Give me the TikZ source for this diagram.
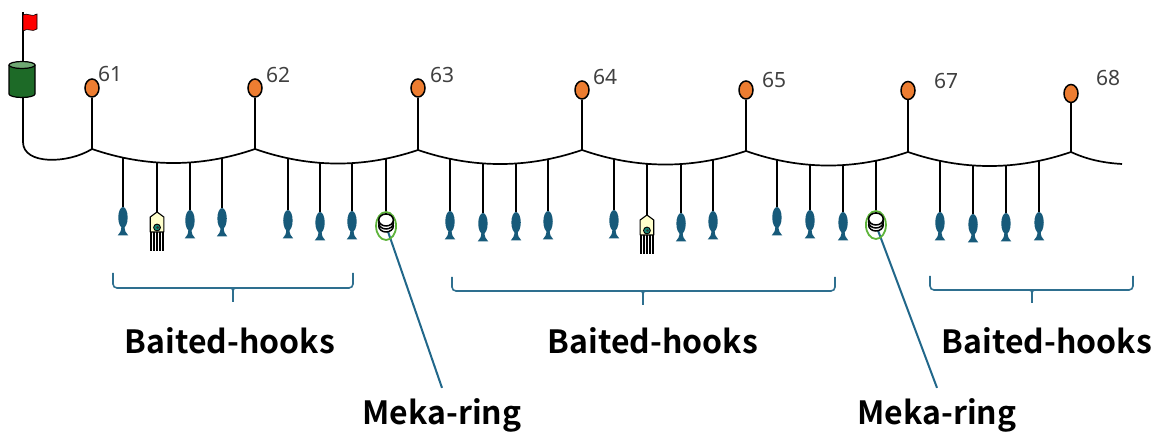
\documentclass[tikz,border=0pt]{standalone}
\usepackage{fontspec}
\setmainfont{Noto Sans}
\newfontfamily\labfont{Noto Sans CJK JP Bold}
\usetikzlibrary{calc,shapes.geometric}

\definecolor{fishc}{HTML}{175A7A}
\definecolor{floatc}{HTML}{ED7D31}
\definecolor{numc}{HTML}{404040}
\definecolor{ringc}{HTML}{5DB33A}
\definecolor{mekac}{HTML}{21678A}
\definecolor{bracec}{HTML}{2E6F8F}
\definecolor{squidc}{HTML}{FFFFCC}
\definecolor{eyec}{HTML}{138A78}
\definecolor{buoyg}{HTML}{1D6A27}
\definecolor{buoytop}{HTML}{6FA873}

% one sagging stretch of main line between two branch points
\newcommand\sagseg[3]{%
  \draw[mainline] (#1) .. controls ($(#1)!1/3!(#2)+(0,18.7)$) and ($(#1)!2/3!(#2)+(0,18.7)$) .. (#2) #3;}

\begin{document}
\begin{tikzpicture}[x=1pt,y=-1pt,
  mainline/.style={line width=1.7pt, black},
  hookline/.style={line width=1.5pt, black},
  floatbuoy/.style={ellipse, draw, line width=1.5pt, fill=floatc,
    minimum width=14pt, minimum height=18pt, inner sep=0pt},
  numlab/.style={anchor=base west, text=numc,
    font=\fontsize{21}{24}\selectfont, inner sep=0pt},
  bigtxt/.style={anchor=base, font=\labfont\fontsize{32}{36}\selectfont,
    inner xsep=0pt, inner ysep=0pt},
  mekatxt/.style={bigtxt, inner ysep=10pt},
  mekaline/.style={mekac, line width=2pt},
  bracket/.style={bracec, line width=1.6pt},
  fishpic/.pic={
    \fill[fishc] (0,10.5) ellipse [x radius=4.7, y radius=10.5];
    \fill[fishc] (-1.6,19) .. controls (-1.5,24) and (-3,26) .. (-5.3,28.5)
      -- (5.3,28.5) .. controls (3,26) and (1.5,24) .. (1.6,19) -- cycle;
  },
  squidpic/.pic={
    \foreach \t in {-6,-3,0,3,6}
      \draw[line width=1.4pt] (\t,20) -- (\t,39);
    \draw[line width=1.1pt, fill=squidc, line join=round]
      (0,0) -- (6.8,5) -- (6.8,20) -- (-6.8,20) -- (-6.8,5) -- cycle;
    \draw[line width=0.9pt, fill=eyec] (0,15.5) circle (3.4);
    \fill[black!80] (0.6,15.5) circle (1.4);
  },
  ringpic/.pic={
    \draw[ringc, line width=1.8pt] (0,0) ellipse [x radius=10, y radius=14];
    \foreach \dy in {0,-3,-6}
      \draw[line width=1.5pt, fill=white] (0,\dy) ellipse [x radius=7.3, y radius=6];
  }
]
\useasboundingbox (0,0) rectangle (1158,435);

% ---- end buoy with flag ----
\draw[line width=1.2pt] (23,64) -- (23,12);
\draw[line width=0.6pt, fill=red] (23,15) .. controls (27,12) and (32,18) .. (37,14)
  -- (37,29) .. controls (32,33) and (28,27) .. (23,31) -- cycle;
\draw[line width=1.2pt, fill=buoyg] (9,65) -- (9,94)
  arc [start angle=180, end angle=0, x radius=13, y radius=3.5] -- (35,65);
\draw[line width=1.2pt, fill=buoytop] (22,65) ellipse [x radius=13, y radius=3.5];
\coordinate (buoyb) at (23,97);

% ---- branch points and floats ----
\foreach \n/\x/\y/\fy/\lx/\ly in {61/92/149/88/98/82, 62/255/149/88/266/83,
    63/418/150/88/430/83, 64/582/150/90/593/85, 65/746/151/90/762/88,
    67/908/152/90.5/934/89, 68/1071/152/93.5/1096/86} {
  \coordinate (b\n) at (\x,\y);
  \node[floatbuoy] (f\n) at (\x,\fy) {};
  \node[numlab] (l\n) at (\lx,\ly) {\n};
  \draw[hookline] (f\n.south) -- (b\n);
}

% ---- main line ----
\draw[mainline] (buoyb) -- (23,142) .. controls (23,165) and (68,164) .. (b61);
\sagseg{b61}{b62}{coordinate[pos=.190] (h1) coordinate[pos=.399] (h2)
  coordinate[pos=.601] (h3) coordinate[pos=.798] (h4)}
\sagseg{b62}{b63}{coordinate[pos=.202] (h5) coordinate[pos=.399] (h6)
  coordinate[pos=.595] (h7) coordinate[pos=.804] (h8)}
\sagseg{b63}{b64}{coordinate[pos=.195] (h9) coordinate[pos=.396] (h10)
  coordinate[pos=.598] (h11) coordinate[pos=.793] (h12)}
\sagseg{b64}{b65}{coordinate[pos=.195] (h13) coordinate[pos=.396] (h14)
  coordinate[pos=.604] (h15) coordinate[pos=.799] (h16)}
\sagseg{b65}{b67}{coordinate[pos=.191] (h17) coordinate[pos=.395] (h18)
  coordinate[pos=.599] (h19) coordinate[pos=.802] (h20)}
\sagseg{b67}{b68}{coordinate[pos=.196] (h21) coordinate[pos=.399] (h22)
  coordinate[pos=.601] (h23) coordinate[pos=.804] (h24)}
\coordinate (lineend) at (1122,164);
\draw[mainline] (b68) .. controls (1088,160) and (1105,163) .. (lineend);

% ---- branch lines with fish baits ----
\foreach \h/\t in {h1/207, h3/210, h4/208, h5/210, h6/212, h7/211,
    h9/211, h10/213, h11/212, h12/211, h13/210, h15/213, h16/211,
    h17/207, h18/210, h19/212, h21/212, h22/214, h23/213, h24/212} {
  \draw[hookline] (\h) -- (\h |- 0,\t);
  \pic at (\h |- 0,\t) {fishpic};
}

% ---- squid baits ----
\foreach \h/\t in {h2/212, h14/215} {
  \draw[hookline] (\h) -- (\h |- 0,\t);
  \pic at (\h |- 0,\t) {squidpic};
}

% ---- labels ----
\node[bigtxt] (bh1) at (230,353) {Baited-hooks};
\node[bigtxt] (bh2) at (653,353) {Baited-hooks};
\node[bigtxt] (bh3) at (1047,353) {Baited-hooks};
\node[mekatxt] (mk1) at (442,424) {Meka-ring};
\node[mekatxt] (mk2) at (937,424) {Meka-ring};

% ---- meka rings and their leaders ----
\coordinate (ring1) at (h8 |- 0,226);
\coordinate (ring2) at (h20 |- 0,225);
\draw[mekaline] (ring1) -- (mk1.north);
\draw[mekaline] (ring2) -- (mk2.north);
\draw[hookline] (h8) -- (h8 |- 0,214);
\draw[hookline] (h20) -- (h20 |- 0,213);
\pic at (ring1) {ringpic};
\pic at (ring2) {ringpic};

% ---- brackets over the baited hooks ----
\draw[bracket, rounded corners=4pt] (113,273) |- (353,288) -- (353,273);
\draw[bracket] (227,288) .. controls (233,288) .. (233,294) -- (233,302);
\draw[bracket] (239,288) .. controls (233,288) .. (233,294);

\draw[bracket, rounded corners=4pt] (452,277) |- (835,291) -- (835,277);
\draw[bracket] (637,291) .. controls (643,291) .. (643,297) -- (643,305);
\draw[bracket] (649,291) .. controls (643,291) .. (643,297);

\draw[bracket, rounded corners=4pt] (930,276) |- (1133,290) -- (1133,276);
\draw[bracket] (1026,290) .. controls (1032,290) .. (1032,296) -- (1032,303);
\draw[bracket] (1038,290) .. controls (1032,290) .. (1032,296);
\end{tikzpicture}
\end{document}
